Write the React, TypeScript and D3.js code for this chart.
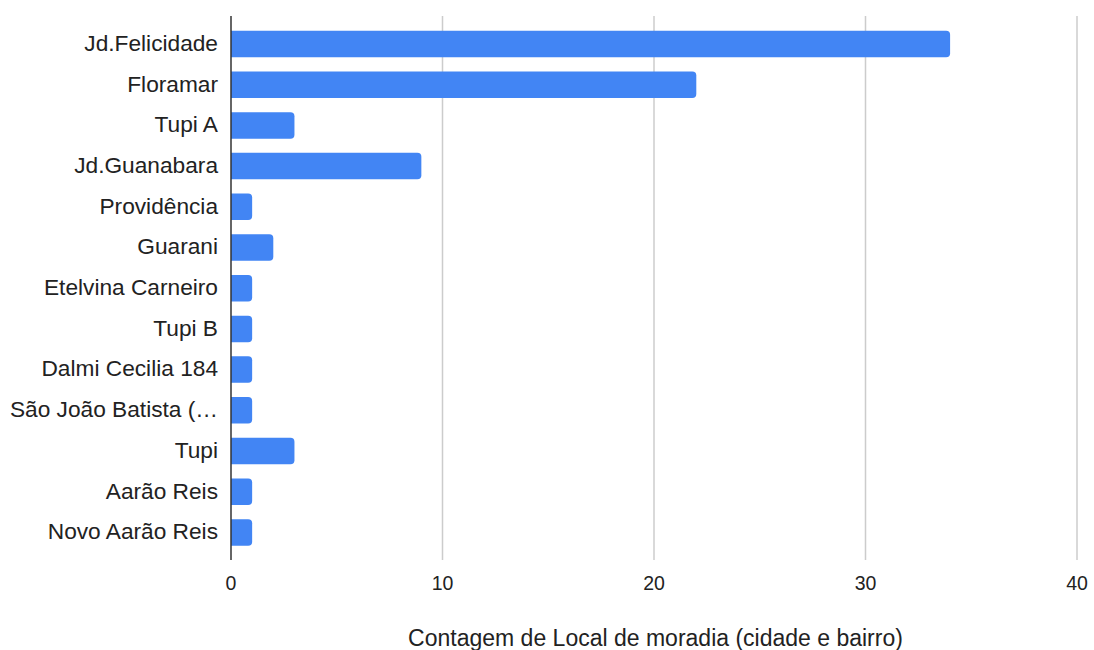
import React from "react";
import * as d3 from "d3";

const categories = [
  "Jd.Felicidade",
  "Floramar",
  "Tupi A",
  "Jd.Guanabara",
  "Providência",
  "Guarani",
  "Etelvina Carneiro",
  "Tupi B",
  "Dalmi Cecilia 184",
  "São João Batista (…",
  "Tupi",
  "Aarão Reis",
  "Novo Aarão Reis",
];
const counts = [34, 22, 3, 9, 1, 2, 1, 1, 1, 1, 3, 1, 1];
const xTicks = [0, 10, 20, 30, 40];
const axisTitle = "Contagem de Local de moradia (cidade e bairro)";

const W = 1094;
const H = 650;
const FONT = "'Liberation Sans', Arial, sans-serif";

function roundedRight(x0: number, x1: number, y: number, h: number, r: number) {
  const rr = Math.min(r, (x1 - x0) / 2, h / 2);
  return `M${x0},${y}H${x1 - rr}Q${x1},${y} ${x1},${y + rr}V${y + h - rr}Q${x1},${y + h} ${x1 - rr},${y + h}H${x0}Z`;
}

export default function App() {
  const x = d3.scaleLinear().domain([0, 40]).range([231, 1077]);
  const y = d3
    .scaleBand<string>()
    .domain(categories)
    .range([23.65, 552.75])
    .paddingInner(0.35)
    .paddingOuter(0.175);

  return (
    <svg width={W} height={H} style={{ display: "block", position: "absolute", left: 0, top: 0 }}>
      <rect width={W} height={H} fill="#ffffff" />
      {xTicks.slice(1).map((t) => (
        <line key={t} x1={x(t)} x2={x(t)} y1={16} y2={560} stroke="#cccccc" strokeWidth={1.5} />
      ))}
      {categories.map((c, i) => (
        <path
          key={c}
          d={roundedRight(x(0), x(counts[i]), y(c)!, y.bandwidth(), 4)}
          fill="#4285f4"
        />
      ))}
      <line x1={x(0)} x2={x(0)} y1={16} y2={560} stroke="#333333" strokeWidth={1.5} />
      {categories.map((c) => (
        <text
          key={c}
          x={218}
          y={y(c)! + y.bandwidth() / 2}
          dy="0.3em"
          textAnchor="end"
          fontFamily={FONT}
          fontSize={22.7}
          fill="#222222"
        >
          {c}
        </text>
      ))}
      {xTicks.map((t) => (
        <text
          key={t}
          x={x(t)}
          y={590}
          textAnchor="middle"
          fontFamily={FONT}
          fontSize={19.5}
          fill="#222222"
        >
          {t}
        </text>
      ))}
      <text
        x={655.5}
        y={646}
        textAnchor="middle"
        fontFamily={FONT}
        fontSize={23}
        fill="#222222"
      >
        {axisTitle}
      </text>
    </svg>
  );
}
